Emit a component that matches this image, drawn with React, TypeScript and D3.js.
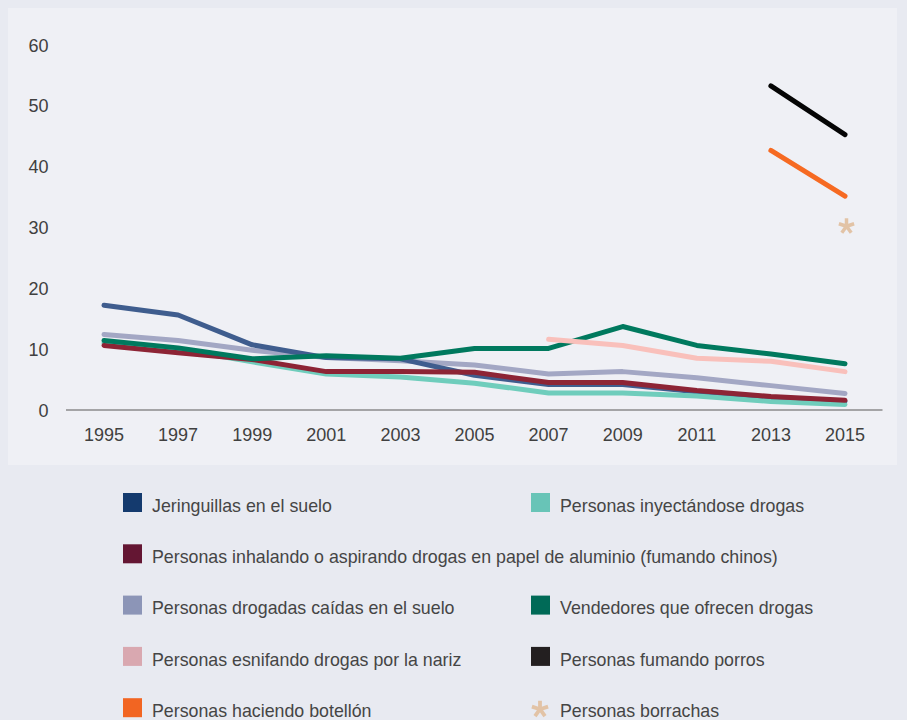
import React, { useLayoutEffect } from "react";
import * as d3 from "d3";

const years = [1995, 1997, 1999, 2001, 2003, 2005, 2007, 2009, 2011, 2013, 2015];
const yTicks = [0, 10, 20, 30, 40, 50, 60];

const jeringuillas = [17.2, 15.6, 10.7, 8.6, 8.4, 5.7, 4.2, 4.2, 3.0, 2.0, 1.4];
const inyectandose = [11.0, 10.0, 7.9, 5.9, 5.4, 4.4, 2.8, 2.8, 2.3, 1.4, 0.9];
const inhalando = [10.6, 9.4, 8.3, 6.3, 6.3, 6.2, 4.5, 4.5, 3.2, 2.2, 1.6];
const caidas = [12.4, 11.4, 9.8, 8.6, 8.1, 7.4, 5.9, 6.3, 5.3, 4.0, 2.7];
const vendedores = [11.4, 10.2, 8.4, 8.9, 8.5, 10.1, 10.1, 13.7, 10.6, 9.2, 7.6];
const esnifando = [null, null, null, null, null, null, 11.6, 10.6, 8.5, 8.0, 6.3];
const porros = [null, null, null, null, null, null, null, null, null, 53.2, 45.2];
const botellon = [null, null, null, null, null, null, null, null, null, 42.6, 35.1];
const borrachas = [null, null, null, null, null, null, null, null, null, null, 30];

const seriesNames = [
  "Jeringuillas en el suelo",
  "Personas inyectándose drogas",
  "Personas inhalando o aspirando drogas en papel de aluminio (fumando chinos)",
  "Personas drogadas caídas en el suelo",
  "Vendedores que ofrecen drogas",
  "Personas esnifando drogas por la nariz",
  "Personas fumando porros",
  "Personas haciendo botellón",
  "Personas borrachas",
];

type S = { name: string; values: (number | null)[]; line: string; swatch: string };

const series: S[] = [
  { name: seriesNames[0], values: jeringuillas, line: "#3f5d8e", swatch: "#143a6e" },
  { name: seriesNames[1], values: inyectandose, line: "#6fcdbc", swatch: "#68c4b7" },
  { name: seriesNames[2], values: inhalando, line: "#8d2435", swatch: "#641633" },
  { name: seriesNames[3], values: caidas, line: "#a3a7c4", swatch: "#8c95b7" },
  { name: seriesNames[4], values: vendedores, line: "#00795e", swatch: "#006a57" },
  { name: seriesNames[5], values: esnifando, line: "#f9c0bb", swatch: "#d9a8b0" },
  { name: seriesNames[6], values: porros, line: "#050505", swatch: "#231f20" },
  { name: seriesNames[7], values: botellon, line: "#f66a22", swatch: "#f26522" },
];
const borrachasColor = "#e2c3a6";

// drawing order (z-order)
const drawOrder = [3, 0, 1, 2, 4, 5, 6, 7];

// legend layout: [seriesIndex, row, col]
const legendLayout: [number, number, number][] = [
  [0, 0, 0],
  [1, 0, 1],
  [2, 1, 0],
  [3, 2, 0],
  [4, 2, 1],
  [5, 3, 0],
  [6, 3, 1],
  [7, 4, 0],
  [8, 4, 1],
];

const W = 907;
const H = 720;

function asteriskPath(cx: number, cy: number, r: number) {
  const parts: string[] = [];
  for (let i = 0; i < 5; i++) {
    const a = -Math.PI / 2 + (i * 2 * Math.PI) / 5;
    parts.push(`M${cx},${cy}L${cx + r * Math.cos(a)},${cy + r * Math.sin(a)}`);
  }
  return parts.join("");
}

export default function App() {
  useLayoutEffect(() => {
    document.body.style.margin = "0";
    document.body.style.background = "#e8eaf1";
  }, []);

  const x = d3.scaleLinear().domain([1995, 2015]).range([104, 845]);
  const y = d3.scaleLinear().domain([0, 60]).range([410, 44.5]);

  const line = d3
    .line<{ yr: number; v: number | null }>()
    .defined((d) => d.v != null)
    .x((d) => x(d.yr))
    .y((d) => y(d.v as number));

  const font = "'Liberation Sans', Arial, Helvetica, sans-serif";
  const legendX = [123, 531];
  const legendTop = 493;
  const rowGap = 51.3;

  return (
    <svg width={W} height={H} style={{ display: "block" }} fontFamily={font}>
      <rect x={0} y={0} width={W} height={H} fill="#e8eaf1" />
      <rect x={8} y={8} width={889} height={457} fill="#eff0f5" />

      {/* y tick labels */}
      {yTicks.map((t) => (
        <text
          key={t}
          x={48.5}
          y={y(t) + 1}
          textAnchor="end"
          dominantBaseline="central"
          fontSize={18}
          fill="#404040"
        >
          {t}
        </text>
      ))}

      {/* x axis baseline */}
      <line x1={66} x2={882.5} y1={y(0)} y2={y(0)} stroke="#a4a4a6" strokeWidth={2.2} />

      {/* x tick labels */}
      {years.map((yr) => (
        <text
          key={yr}
          x={x(yr)}
          y={441}
          textAnchor="middle"
          fontSize={18}
          fill="#404040"
        >
          {yr}
        </text>
      ))}

      {/* lines */}
      {drawOrder.map((i) => {
        const s = series[i];
        const data = years.map((yr, k) => ({ yr, v: s.values[k] }));
        return (
          <path
            key={s.name}
            d={line(data) || ""}
            fill="none"
            stroke={s.line}
            strokeWidth={5}
            strokeLinejoin="round"
            strokeLinecap="round"
          />
        );
      })}

      {/* borrachas asterisk */}
      {years.map((yr, k) =>
        borrachas[k] != null ? (
          <path
            key={yr}
            d={asteriskPath(x(yr) + 1.5, y(borrachas[k] as number) - 1, 8)}
            stroke={borrachasColor}
            strokeWidth={3.5}
            strokeLinecap="butt"
            fill="none"
          />
        ) : null
      )}

      {/* legend */}
      {legendLayout.map(([si, row, col]) => {
        const sx = legendX[col];
        const sy = legendTop + row * rowGap;
        const isAst = si === 8;
        const color = isAst ? borrachasColor : series[si].swatch;
        return (
          <g key={si}>
            {isAst ? (
              <path
                d={asteriskPath(sx + 9, sy + 11, 8.5)}
                stroke={color}
                strokeWidth={3.8}
                fill="none"
              />
            ) : (
              <rect x={sx} y={sy} width={19} height={19} fill={color} />
            )}
            <text x={sx + 29} y={sy + 18.7} fontSize={17.8} fill="#454545">
              {seriesNames[si]}
            </text>
          </g>
        );
      })}
    </svg>
  );
}
